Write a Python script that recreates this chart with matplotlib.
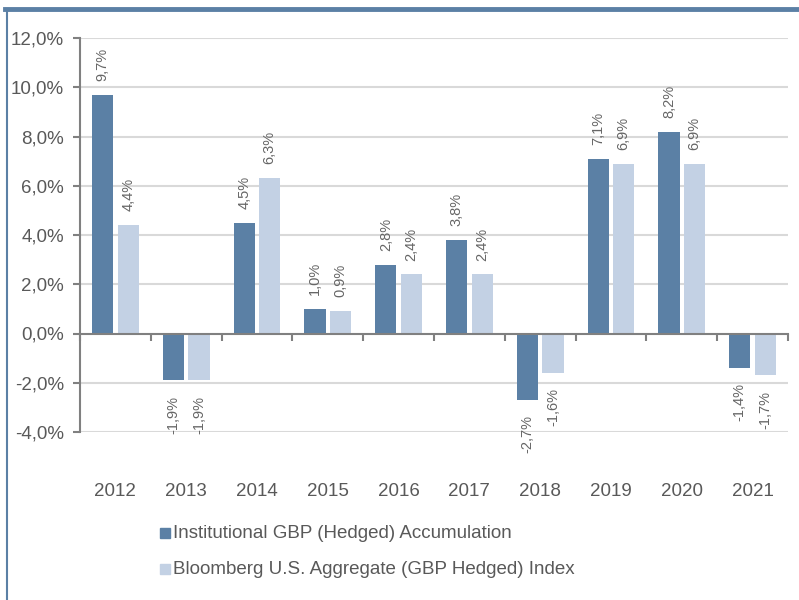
import matplotlib
matplotlib.use("Agg")
import matplotlib.pyplot as plt
from matplotlib.lines import Line2D
from matplotlib.patches import Rectangle
import numpy as np

years = ["2012", "2013", "2014", "2015", "2016", "2017", "2018", "2019", "2020", "2021"]
fund = [9.7, -1.9, 4.5, 1.0, 2.8, 3.8, -2.7, 7.1, 8.2, -1.4]
index = [4.4, -1.9, 6.3, 0.9, 2.4, 2.4, -1.6, 6.9, 6.9, -1.7]
series_names = ["Institutional GBP (Hedged) Accumulation",
                "Bloomberg U.S. Aggregate (GBP Hedged) Index"]
yticks = [-4, -2, 0, 2, 4, 6, 8, 10, 12]

dark = "#5B80A5"
light = "#C3D1E4"
txt = "#595959"
axc = "#808080"

plt.rcParams['font.family'] = ['Liberation Sans', 'DejaVu Sans']

fig = plt.figure(figsize=(7.99, 6.0), dpi=100)
ax = fig.add_axes([80/799, 1-432/600, (788-80)/799, (432-38)/600])

x = np.arange(len(years))
w = 0.3
off = 0.18
b1 = ax.bar(x - off, fund, w, color=dark, zorder=3)
b2 = ax.bar(x + off, index, w, color=light, zorder=3)

def fmt(v):
    return f"{v:.1f}%".replace(".", ",")

for bars, vals in ((b1, fund), (b2, index)):
    for b, v in zip(bars, vals):
        cx = b.get_x() + b.get_width()/2
        if v >= 0:
            ax.annotate(fmt(v), (cx, v), xytext=(0, 10), textcoords="offset points",
                        rotation=90, ha="center", va="bottom", fontsize=10.5, color="#666666")
        else:
            ax.annotate(fmt(v), (cx, v), xytext=(0, -11), textcoords="offset points",
                        rotation=90, ha="center", va="top", fontsize=10.5, color="#666666")

ax.set_xlim(-0.5, len(years) - 0.5)
ax.set_ylim(-4, 12)
ax.set_yticks(yticks)
ax.set_yticklabels([f"{t:.1f}%".replace(".", ",") for t in yticks], fontsize=13.5, color=txt)
for t in yticks:
    if t != 0:
        ax.axhline(t, color="#D9D9D9", lw=1.5, zorder=1)

ax.spines['top'].set_visible(False)
ax.spines['right'].set_visible(False)
ax.spines['bottom'].set_position(('data', 0))
ax.spines['bottom'].set_color(axc)
ax.spines['bottom'].set_linewidth(1.5)
ax.spines['bottom'].set_zorder(4)
ax.spines['left'].set_color(axc)
ax.spines['left'].set_linewidth(1.5)
ax.set_xticks(np.arange(len(years) + 1) - 0.5)
ax.set_xticklabels([])
ax.tick_params(axis='x', length=5, width=1.5, color=axc, direction='out')
ax.tick_params(axis='y', length=5, width=1.5, color=axc, direction='out', pad=6.5)

for i, yr in enumerate(years):
    ax.text(i, -0.15, yr, transform=ax.get_xaxis_transform(), ha="center", va="center",
            fontsize=13.5, color=txt)

# legend
for j, (name, c) in enumerate(zip(series_names, (dark, light))):
    yc = 1 - (533 + 36*j)/600
    fig.patches.append(Rectangle((160/799, yc - 5/600), 10/799, 10/600,
                                 transform=fig.transFigure, color=c, figure=fig))
    fig.text(173/799, yc, name, ha="left", va="center", fontsize=13.5, color=txt)

# frame
fig.lines.append(Line2D([5/799, 1], [1-9/600, 1-9/600], transform=fig.transFigure,
                        color=dark, lw=3.5, figure=fig))
fig.lines.append(Line2D([7/799, 7/799], [0, 1-9/600], transform=fig.transFigure,
                        color=dark, lw=1.5, figure=fig))

fig.savefig("out.png", dpi=100)
